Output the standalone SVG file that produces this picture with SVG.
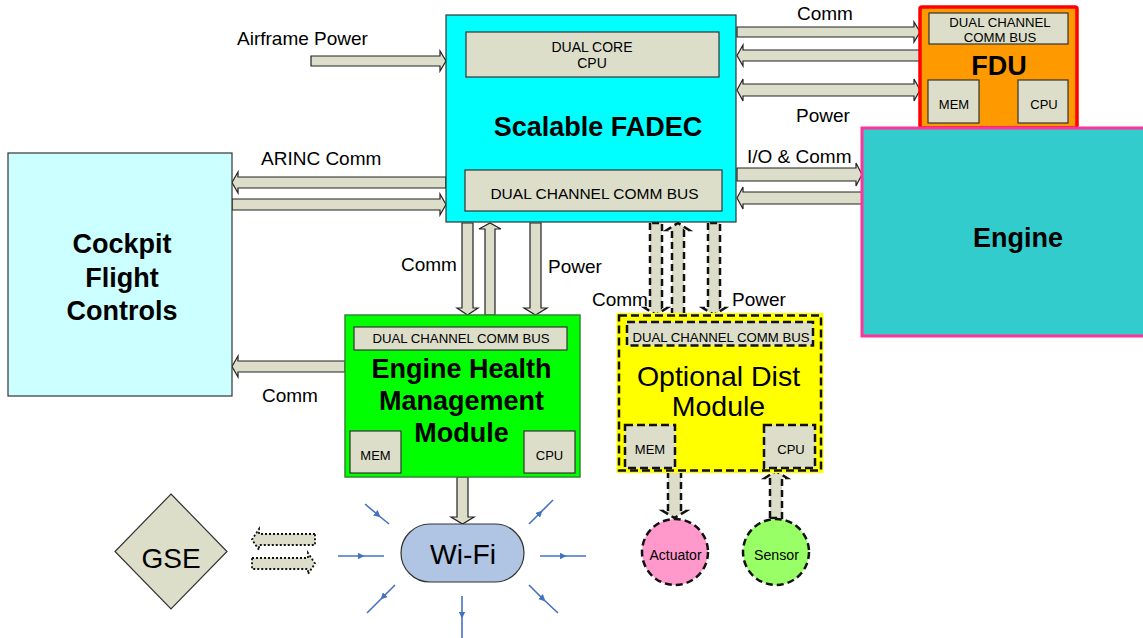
<svg xmlns="http://www.w3.org/2000/svg" width="1143" height="638" viewBox="0 0 1143 638">
<defs>
<style>
text{font-family:"Liberation Sans",Arial,sans-serif;fill:#000}
.lbl{font-size:19px}
.sub{fill:#DCDEC9;stroke:#333;stroke-width:1.2}
.subd{fill:#DCDEC9;stroke:#111;stroke-width:2.5;stroke-dasharray:8 4}
.arr{fill:#DCDEC9;stroke:#222;stroke-width:1.2;stroke-linejoin:miter}
.arrd{fill:#DCDEC9;stroke:#111;stroke-width:2.5;stroke-dasharray:7 4}
.arrdot{fill:#DCDEC9;stroke:#111;stroke-width:1.8;stroke-dasharray:2 2}
.big{font-weight:bold;font-size:27px}
.st{font-size:13px}
.w{stroke:#4472C4;stroke-width:1.6;fill:none;marker-mid:url(#bh)}
</style>
<marker id="bh" viewBox="0 0 10 10" refX="5" refY="5" markerWidth="7" markerHeight="7" markerUnits="userSpaceOnUse" orient="auto">
<path d="M0 0 L10 5 L0 10 Z" fill="#4472C4"/>
</marker>
</defs>
<rect width="1143" height="638" fill="#fff"/>

<g id="connectors">
<path class="arr" d="M311 56 H440 V51 L446 61 L440 71 V66 H311 Z"/>
<path class="arr" d="M446 177 H238 V172 L232 182.5 L238 193 V188 H446 Z"/>
<path class="arr" d="M232 199 H440 V194 L446 204.5 L440 215 V210 H232 Z"/>
<path class="arr" d="M737 27 H914 V22 L920 32 L914 42 V37 H737 Z"/>
<path class="arr" d="M920 50 H743 V45 L737 55.5 L743 66 V61 H920 Z"/>
<path class="arr" d="M743 84 H914 V79 L920 90 L914 101 V96 H743 V101 L737 90 L743 79 Z"/>
<path class="arr" d="M737 168 H856 V163 L862 174.5 L856 186 V181 H737 Z"/>
<path class="arr" d="M862 192 H743 V187 L737 198 L743 209 V204 H862 Z"/>
<path class="arr" d="M345 361 H238 V356 L232 366.5 L238 377 V372 H345 Z"/>
<path class="arr" d="M462 223 V308 H457 L467.5 315 L478 308 H473 V223 Z"/>
<path class="arr" d="M485 315 V229 H479 L490 223 L501 229 H495 V315 Z"/>
<path class="arr" d="M530 223 V308 H524 L535.5 315 L547 308 H541 V223 Z"/>
<path class="arrd" d="M650 223 V308 H645 L656 315 L667 308 H662 V223 Z"/>
<path class="arrd" d="M672 315 V230 H667 L678 223 L689 230 H684 V315 Z"/>
<path class="arrd" d="M708 223 V308 H703 L714 315 L725 308 H720 V223 Z"/>
<path class="arrd" d="M668 471 V511 H663 L674.5 518 L686 511 H681 V471 Z"/>
<path class="arrd" d="M770 518 V478 H765 L776 471 L787 478 H782 V518 Z"/>
<path class="arr" d="M457 477 V517 H451 L462.5 524 L474 517 H468 V477 Z"/>
<path class="arrdot" d="M315 534 H259 V529 L252 539.5 L259 550 V545 H315 Z"/>
<path class="arrdot" d="M252 558 H308 V553 L315 563.5 L308 574 V569 H252 Z"/>
<path class="w" d="M365 504 L378 515 L389 524"/>
<path class="w" d="M338 556 L361 556 L384 556"/>
<path class="w" d="M395 585 L383 597 L367 613"/>
<path class="w" d="M462 596 L462 615 L462 638"/>
<path class="w" d="M529 585 L543 599 L558 613"/>
<path class="w" d="M540 556 L563 556 L586 556"/>
<path class="w" d="M529 524 L540 513 L553 500"/>
<text class="lbl" x="237" y="45">Airframe Power</text>
<text class="lbl" x="261" y="165">ARINC Comm</text>
<text class="lbl" x="797" y="20">Comm</text>
<text class="lbl" x="796" y="122">Power</text>
<text class="lbl" x="747" y="163">I/O &amp; Comm</text>
<text class="lbl" x="401" y="271">Comm</text>
<text class="lbl" x="548" y="273">Power</text>
<text class="lbl" x="592" y="306">Comm</text>
<text class="lbl" x="732" y="306">Power</text>
<text class="lbl" x="262" y="402">Comm</text>
</g>

<g id="fadec">
<rect x="446" y="15" width="290" height="207" fill="#00FFFF" stroke="#333" stroke-width="1.2"/>
<rect class="sub" x="466" y="32" width="253" height="45"/>
<text x="592" y="51.5" font-size="14" text-anchor="middle">DUAL CORE</text>
<text x="592" y="67.5" font-size="14" text-anchor="middle">CPU</text>
<text class="big" x="598" y="136" font-size="28" text-anchor="middle">Scalable FADEC</text>
<rect class="sub" x="465" y="170" width="257" height="41"/>
<text x="594.5" y="199" font-size="15.5" text-anchor="middle">DUAL CHANNEL COMM BUS</text>
</g>

<g id="fdu">
<rect x="920" y="7" width="157" height="121" fill="#FF9900" stroke="#FF0000" stroke-width="3.5" rx="2"/>
<rect class="sub" x="929" y="13" width="139" height="31"/>
<text x="1000" y="26.5" font-size="13.2" text-anchor="middle">DUAL CHANNEL</text>
<text x="1000" y="41.5" font-size="13.2" text-anchor="middle">COMM BUS</text>
<text class="big" x="999" y="75" text-anchor="middle">FDU</text>
<rect class="sub" x="928" y="80" width="51" height="43"/>
<text class="st" x="954" y="109" text-anchor="middle">MEM</text>
<rect class="sub" x="1018" y="80" width="50" height="43"/>
<text class="st" x="1044" y="109" text-anchor="middle">CPU</text>
</g>

<g id="engine">
<rect x="862" y="128" width="290" height="208" fill="#33CCCC" stroke="#FF3399" stroke-width="3"/>
<text class="big" x="1018" y="247" text-anchor="middle">Engine</text>
</g>

<g id="cockpit">
<rect x="8" y="153" width="224" height="243" fill="#CCFFFF" stroke="#333" stroke-width="1.2"/>
<text class="big" x="122" y="253" font-size="27.5" text-anchor="middle">Cockpit</text>
<text class="big" x="122" y="287" font-size="27.5" text-anchor="middle">Flight</text>
<text class="big" x="122" y="320" font-size="27.5" text-anchor="middle">Controls</text>
</g>

<g id="ehm">
<rect x="345" y="315" width="235" height="162" fill="#00FF00" stroke="#2E8B2E" stroke-width="1.5"/>
<rect class="sub" x="354" y="327" width="213" height="23"/>
<text x="461" y="343" font-size="13.2" text-anchor="middle">DUAL CHANNEL COMM BUS</text>
<text class="big" x="461.5" y="378" font-size="26" text-anchor="middle">Engine Health</text>
<text class="big" x="461.5" y="410" font-size="26" text-anchor="middle">Management</text>
<text class="big" x="461.5" y="442" font-size="26" text-anchor="middle">Module</text>
<rect class="sub" x="350" y="431" width="51" height="42"/>
<text class="st" x="375.5" y="460" text-anchor="middle">MEM</text>
<rect class="sub" x="524" y="431" width="51" height="42"/>
<text class="st" x="549.5" y="460" text-anchor="middle">CPU</text>
</g>

<g id="odm">
<rect x="619" y="315.5" width="202" height="155" fill="#FFFF00" stroke="#FFFF00" stroke-width="5"/>
<rect x="619" y="315.5" width="202" height="155" fill="none" stroke="#111" stroke-width="2.5" stroke-dasharray="8 4"/>
<rect class="subd" x="627" y="322" width="186" height="23.5"/>
<text x="721" y="342" font-size="13.2" text-anchor="middle">DUAL CHANNEL COMM BUS</text>
<text x="718.5" y="386" font-size="28.5" text-anchor="middle">Optional Dist</text>
<text x="718.5" y="416" font-size="28.5" text-anchor="middle">Module</text>
<rect class="subd" x="625" y="425" width="50" height="43"/>
<text class="st" x="650" y="453.5" text-anchor="middle">MEM</text>
<rect class="subd" x="764" y="425" width="51" height="43"/>
<text class="st" x="791" y="453.5" text-anchor="middle">CPU</text>
</g>

<g id="actuator">
<circle cx="675" cy="552" r="33" fill="#FF99CC" stroke="#111" stroke-width="2.5" stroke-dasharray="7 4"/>
<text x="675.5" y="560" font-size="14" text-anchor="middle">Actuator</text>
</g>

<g id="sensor">
<circle cx="776" cy="552" r="33" fill="#99FF66" stroke="#111" stroke-width="2.5" stroke-dasharray="7 4"/>
<text x="776.5" y="560" font-size="14.2" text-anchor="middle">Sensor</text>
</g>

<g id="gse">
<path d="M171 494 L227 551.5 L171 609 L115 551.5 Z" fill="#DCDEC9" stroke="#333" stroke-width="1.2"/>
<text x="171" y="567.5" font-size="28" text-anchor="middle">GSE</text>
</g>

<g id="wifi">
<rect x="401" y="524" width="123" height="58" rx="29" fill="#B0C4E4" stroke="#333" stroke-width="1.2"/>
<text x="463" y="563.5" font-size="28.3" text-anchor="middle">Wi-Fi</text>
</g>
</svg>
